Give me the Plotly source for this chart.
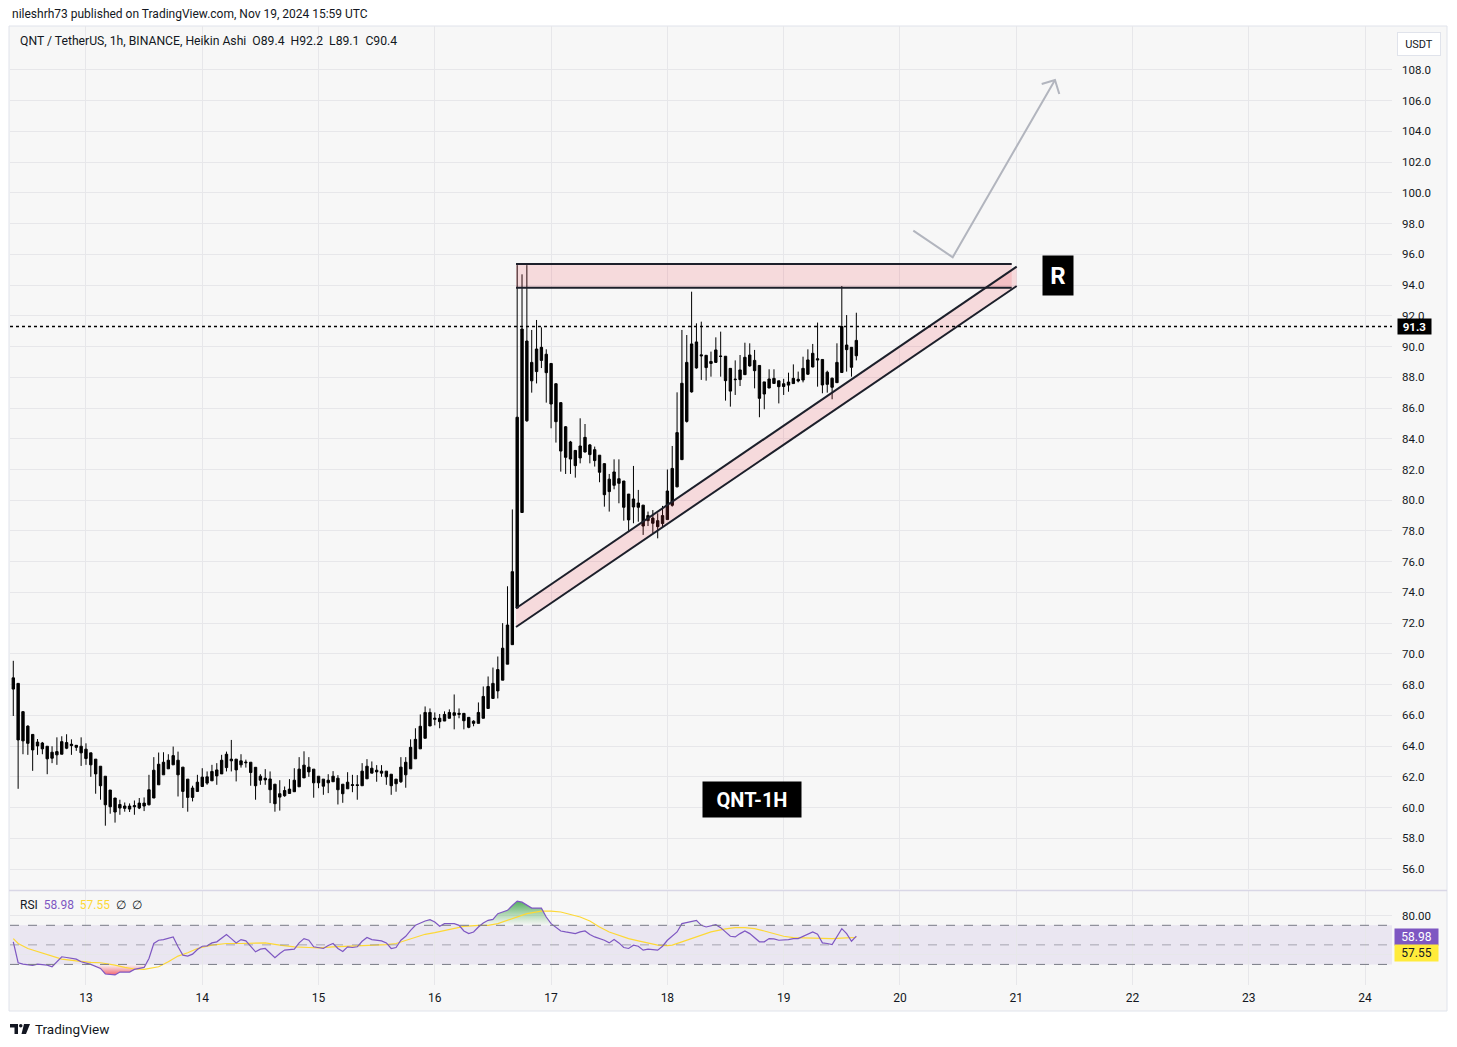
import pandas as pd
import plotly.graph_objects as go

# ---------------- data ----------------
T0 = pd.Timestamp("2024-11-12 09:00")  # first hourly candle

ha_open = [
    68.44, 68.08, 66.24, 65.30, 64.76, 64.26, 64.20, 63.99, 63.60, 63.43,
    63.47, 63.86, 64.03, 64.05, 63.99, 63.80, 63.56, 63.15, 62.69, 62.04,
    61.14, 60.62, 60.20, 60.10, 59.90, 60.05, 59.97, 60.10, 60.18, 60.62,
    61.48, 62.13, 62.52, 62.78, 63.08, 62.63, 61.85, 61.27, 61.05, 61.37,
    61.59, 61.74, 62.06, 62.19, 62.60, 63.04, 63.15, 62.78, 62.91, 62.95,
    62.62, 62.04, 61.91, 61.86, 61.52, 60.90, 60.77, 60.92, 61.03, 61.35,
    61.93, 62.32, 62.50, 62.04, 61.85, 61.61, 61.68, 61.91, 61.52, 61.22,
    61.44, 61.48, 61.42, 61.87, 62.24, 62.43, 62.37, 62.37, 62.17, 61.85,
    61.68, 62.13, 62.52, 63.17, 63.82, 64.51, 65.31, 65.74, 65.81, 65.63,
    65.81, 66.00, 66.06, 66.13, 65.87, 65.62, 65.48, 65.81, 66.45, 67.10,
    67.59, 68.29, 69.33, 70.60, 72.98, 79.20, 85.17, 87.77, 88.37, 89.10,
    89.50, 88.90, 87.58, 86.35, 84.78, 83.79, 83.24, 82.75, 83.14, 83.60,
    83.29, 82.93, 82.38, 81.37, 80.97, 81.40, 81.25, 80.40, 79.56, 79.82,
    79.68, 79.00, 78.84, 78.67, 78.48, 78.74, 79.67, 80.87, 82.64, 85.13,
    87.05, 88.61, 89.46, 89.43, 89.03, 88.97, 89.38, 89.37, 88.58, 87.84,
    87.85, 88.17, 88.74, 89.10, 88.77, 87.70, 87.30, 87.60, 87.77, 87.58,
    87.49, 87.59, 87.76, 87.82, 88.20, 88.67, 89.12, 89.16, 88.33, 87.94,
    87.65, 88.31, 89.80, 89.95, 89.40]

ha_high = [
    69.55, 68.08, 66.26, 65.35, 64.77, 64.46, 64.27, 63.99, 63.99, 64.57,
    64.64, 64.77, 64.44, 64.05, 64.57, 64.18, 63.56, 63.15, 62.69, 62.04,
    61.14, 60.62, 60.51, 60.33, 60.27, 60.46, 60.62, 60.66, 62.13, 63.28,
    63.58, 63.60, 63.47, 63.97, 63.64, 62.63, 61.85, 61.42, 62.13, 62.56,
    62.35, 62.78, 62.89, 63.43, 63.64, 64.40, 63.15, 63.47, 63.12, 62.95,
    62.63, 62.17, 62.50, 62.35, 61.52, 61.78, 61.37, 61.85, 62.56, 63.28,
    63.66, 63.28, 62.50, 62.04, 61.85, 62.17, 62.37, 62.11, 61.52, 62.30,
    62.13, 62.11, 62.89, 63.15, 63.00, 62.76, 62.76, 62.37, 62.17, 61.85,
    63.28, 63.28, 64.44, 65.16, 66.06, 66.58, 66.45, 66.19, 66.09, 66.26,
    66.39, 67.36, 66.45, 66.13, 65.87, 65.68, 66.84, 67.88, 68.53, 69.11,
    69.83, 72.00, 74.40, 79.40, 95.30, 94.70, 95.30, 91.08, 91.73, 91.25,
    89.82, 88.91, 87.61, 86.37, 84.83, 83.86, 83.27, 85.33, 84.96, 83.66,
    83.49, 82.93, 82.40, 81.71, 82.66, 82.66, 81.25, 80.40, 82.23, 80.67,
    79.69, 79.26, 79.36, 79.15, 79.63, 82.00, 83.53, 87.02, 91.08, 90.75,
    93.57, 91.51, 91.62, 89.43, 89.67, 90.60, 90.97, 89.38, 88.60, 89.10,
    89.45, 90.25, 90.21, 89.78, 88.77, 87.70, 88.52, 88.52, 87.77, 87.90,
    88.30, 88.84, 88.37, 89.34, 89.82, 90.17, 91.56, 89.16, 88.43, 87.98,
    90.21, 93.94, 92.05, 89.95, 92.20]

ha_low = [
    65.96, 61.22, 63.47, 63.43, 62.39, 63.43, 63.47, 62.17, 62.89, 62.78,
    63.47, 63.80, 63.43, 63.69, 62.71, 62.78, 62.00, 60.90, 60.51, 58.82,
    59.60, 59.02, 59.53, 59.73, 59.71, 59.53, 59.90, 59.77, 60.14, 60.62,
    61.48, 62.13, 62.52, 62.78, 60.72, 59.97, 59.73, 60.40, 61.05, 61.37,
    61.48, 61.74, 61.48, 62.19, 62.35, 62.35, 61.70, 62.60, 62.60, 61.42,
    60.51, 61.48, 61.48, 60.29, 59.73, 59.80, 60.70, 60.90, 61.03, 61.35,
    61.93, 62.00, 60.64, 61.26, 60.83, 60.94, 61.68, 60.20, 60.31, 61.22,
    61.00, 60.51, 61.42, 61.87, 62.24, 61.68, 62.00, 61.48, 60.83, 61.03,
    61.60, 61.29, 62.52, 63.17, 63.82, 64.51, 65.31, 65.35, 65.16, 65.63,
    65.81, 65.09, 65.81, 65.09, 65.16, 65.29, 65.48, 65.81, 66.45, 67.10,
    67.10, 68.29, 69.33, 70.60, 72.98, 79.20, 85.10, 87.00, 87.60, 88.60,
    86.35, 84.68, 83.75, 81.86, 81.71, 81.71, 81.47, 82.40, 83.10, 82.40,
    82.19, 81.17, 79.58, 79.26, 80.71, 79.80, 78.67, 78.00, 78.50, 78.60,
    77.74, 78.32, 77.85, 77.52, 78.20, 78.74, 79.58, 80.84, 82.62, 85.05,
    87.00, 88.56, 87.83, 87.78, 88.04, 88.95, 88.04, 86.48, 86.09, 86.85,
    87.43, 88.17, 88.69, 87.28, 85.40, 85.92, 87.30, 87.60, 86.30, 86.85,
    87.06, 87.59, 87.67, 87.67, 88.15, 88.65, 87.39, 86.96, 87.00, 86.57,
    87.65, 88.31, 88.37, 88.04, 89.10]

ha_close = [
    67.71, 64.40, 64.34, 64.18, 63.75, 64.01, 63.82, 63.17, 63.21, 63.64,
    64.29, 64.23, 64.12, 63.92, 63.56, 63.19, 62.78, 62.19, 61.42, 60.18,
    60.05, 59.71, 59.97, 59.95, 60.10, 60.12, 60.29, 60.29, 61.16, 62.43,
    62.82, 62.95, 63.08, 63.38, 62.13, 61.05, 60.66, 60.66, 61.65, 61.98,
    62.00, 62.35, 62.45, 63.08, 63.47, 63.15, 62.45, 63.04, 62.95, 62.28,
    61.42, 61.78, 61.80, 61.16, 60.25, 60.68, 61.11, 61.20, 61.78, 62.50,
    62.76, 62.63, 61.61, 61.61, 61.39, 61.78, 62.04, 61.16, 60.90, 61.65,
    61.48, 61.44, 62.37, 62.69, 62.56, 62.32, 62.24, 62.00, 61.42, 61.55,
    62.63, 62.95, 63.92, 64.44, 65.29, 66.19, 66.19, 65.81, 65.59, 66.06,
    66.19, 66.17, 66.13, 65.65, 65.22, 65.48, 66.19, 67.23, 67.88, 68.08,
    68.98, 70.37, 71.88, 75.35, 85.40, 91.14, 90.36, 88.97, 89.84, 89.95,
    88.30, 86.26, 85.11, 83.20, 82.79, 82.68, 82.25, 83.53, 84.09, 82.97,
    82.58, 81.82, 80.36, 80.56, 81.84, 81.10, 79.54, 78.72, 80.08, 79.54,
    78.32, 78.67, 78.50, 78.28, 79.00, 80.60, 82.07, 84.40, 87.61, 88.97,
    90.17, 90.30, 89.40, 88.63, 88.90, 89.78, 89.36, 87.78, 87.10, 87.87,
    88.48, 89.30, 89.45, 88.43, 86.63, 86.91, 87.89, 87.93, 87.39, 87.40,
    87.69, 87.93, 87.87, 88.58, 89.13, 89.56, 89.20, 87.50, 87.54, 87.35,
    88.97, 91.30, 90.10, 88.65, 90.40]

last_price = 91.3
price_ticks = list(range(56, 110, 2))

# RSI (candle index -> value)
rsi_idx = [0, 1, 2, 4, 5, 7, 8, 9, 10, 11, 13, 14, 16, 18, 19, 21, 22, 24, 25, 27,
           28, 29, 30, 31, 33, 34, 35, 36, 37, 38, 39, 40, 41, 42, 44, 45, 46, 47, 48, 50,
           51, 52, 53, 54, 55, 56, 58, 59, 60, 61, 62, 63, 64, 65, 66, 67, 68, 69, 70, 71,
           72, 73, 74, 76, 77, 78, 79, 80, 81, 82, 83, 85, 86, 87, 88, 89, 91, 92, 93, 94,
           95, 96, 97, 98, 99, 100, 102, 103, 104, 105, 107, 109, 110, 111, 113, 114, 116, 117, 118, 119,
           120, 122, 123, 124, 125, 126, 127, 128, 129, 130, 131, 133, 134, 135, 137, 138, 140, 141, 142, 143,
           145, 146, 148, 149, 150, 151, 152, 154, 155, 156, 157, 158, 160, 161, 162, 164, 165, 166, 167, 168,
           169, 171, 172, 173, 174]
rsi_val = [53.1, 31.7, 30.3, 29.0, 30.3, 29.3, 27.6, 32.7, 37.8, 37.1, 35.4, 32.7, 30.0, 25.9, 20.2, 19.2, 22.2, 22.2, 24.9, 26.9,
           36.1, 51.4, 54.7, 55.4, 58.1, 48.0, 39.5, 38.5, 40.5, 45.3, 48.6, 49.0, 52.0, 53.1, 60.5, 56.4, 52.0, 55.4, 54.1, 42.9,
           45.6, 46.3, 41.9, 36.8, 41.2, 44.6, 45.6, 52.0, 56.4, 54.7, 48.0, 47.3, 46.3, 49.3, 51.4, 46.3, 43.2, 48.0, 47.3, 48.0,
           53.7, 57.5, 55.4, 54.1, 52.0, 46.3, 47.3, 54.7, 58.8, 64.9, 70.0, 74.4, 75.8, 73.4, 69.0, 71.7, 71.7, 70.0, 64.2, 61.5,
           63.2, 68.3, 72.4, 75.1, 76.1, 81.9, 85.3, 90.3, 94.7, 93.7, 87.6, 87.6, 78.5, 71.7, 64.2, 63.2, 61.5, 63.2, 64.2, 60.5,
           58.1, 54.7, 52.0, 55.4, 52.0, 47.3, 46.3, 49.7, 48.6, 44.6, 45.6, 44.6, 48.6, 54.7, 63.2, 71.7, 74.4, 75.1, 70.0, 68.3,
           70.7, 67.6, 58.8, 58.1, 61.5, 64.2, 61.5, 53.1, 53.1, 56.4, 56.1, 54.7, 55.4, 56.4, 56.4, 61.5, 63.2, 60.8, 52.0, 51.4,
           50.3, 66.6, 61.5, 53.7, 58.98]

rsi_ma_idx = [0, 1, 3, 6, 8, 10, 13, 16, 18, 21, 23, 25, 27, 30, 32, 34, 36, 38, 41, 44,
              47, 50, 52, 55, 58, 61, 63, 66, 69, 72, 74, 77, 79, 82, 85, 87, 90, 93, 96, 98,
              100, 103, 106, 109, 111, 113, 115, 117, 119, 121, 123, 125, 127, 129, 131, 133, 135, 136, 138, 140,
              142, 144, 147, 149, 151, 153, 155, 157, 159, 161, 164, 166, 169, 172, 174]
rsi_ma_val = [56.4, 51.4, 46.3, 41.9, 38.5, 35.4, 33.7, 32.0, 31.7, 29.3, 26.9, 25.3, 24.9, 27.6, 32.7, 38.5, 41.9, 46.3, 49.7, 51.4,
              51.4, 51.4, 52.0, 49.7, 48.0, 47.3, 46.9, 48.0, 48.6, 49.7, 50.3, 50.3, 51.4, 56.4, 60.8, 62.5, 65.6, 69.0, 70.0, 70.0,
              71.7, 76.8, 81.9, 84.6, 84.6, 83.6, 81.2, 78.5, 74.4, 68.3, 63.2, 59.8, 56.4, 54.1, 52.0, 49.7, 49.3, 49.7, 53.1, 56.4,
              59.8, 63.2, 66.3, 67.6, 67.6, 66.6, 64.2, 61.5, 58.8, 57.5, 57.1, 56.8, 56.4, 57.1, 57.55]

rsi_levels = [70, 50, 30]

# drawings (hours after T0, price)
zone_hours = [103.76, 206.07]
zone_prices = [95.37, 93.83]
chan_hours = [103.76, 207.1]
chan_upper = [72.97, 95.20]
chan_lower = [71.75, 93.94]
arrow_hours = [185.76, 193.89, 215.0]
arrow_prices = [97.54, 95.81, 107.35]
head_hours = [212.26, 215.0, 215.89]
head_prices = [107.09, 107.35, 106.44]
r_label = (215.6, 94.6)
qnt_label = (152.5, 60.5)

# ---------------- layout helpers ----------------
W, H = 1457, 1047
ML, MR, MT, MB = 10, 65, 26, 62
PW, PH = W - ML - MR, H - MT - MB


def px(x):
    return (x - ML) / PW


def py(y):
    return (H - MB - y) / PH


def t(hours):
    return T0 + pd.Timedelta(hours=hours)


FONT = "Roboto, 'Liberation Sans', sans-serif"
TXT = "#131722"
GRID = "#e7e7ea"
BG = "#f7f7f7"
PINK = "rgba(242,54,69,0.15)"
LINE = "#1c1f2a"

times = [t(i) for i in range(len(ha_open))]
rsi_times = [t(i) for i in rsi_idx]
ma_times = [t(i) for i in rsi_ma_idx]

fig = go.Figure()

# pink zone fills (under candles)
fig.add_trace(go.Scatter(
    x=[t(zone_hours[0]), t(zone_hours[1]), t(zone_hours[1]), t(zone_hours[0])],
    y=[zone_prices[0], zone_prices[0], zone_prices[1], zone_prices[1]],
    fill="toself", fillcolor=PINK, line=dict(width=0), mode="lines", hoverinfo="skip"))
fig.add_trace(go.Scatter(
    x=[t(chan_hours[0]), t(chan_hours[1]), t(chan_hours[1]), t(chan_hours[0])],
    y=[chan_upper[0], chan_upper[1], chan_lower[1], chan_lower[0]],
    fill="toself", fillcolor=PINK, line=dict(width=0), mode="lines", hoverinfo="skip"))

# candles
fig.add_trace(go.Candlestick(
    x=times, open=ha_open, high=ha_high, low=ha_low, close=ha_close,
    increasing=dict(line=dict(color="#000000", width=1), fillcolor="#000000"),
    decreasing=dict(line=dict(color="#000000", width=1), fillcolor="#000000"),
    whiskerwidth=0, hoverinfo="skip"))

# zone / channel border lines
for yv in zone_prices:
    fig.add_trace(go.Scatter(x=[t(zone_hours[0]), t(zone_hours[1])], y=[yv, yv], mode="lines",
                             line=dict(color=LINE, width=2), hoverinfo="skip"))
for ys in (chan_upper, chan_lower):
    fig.add_trace(go.Scatter(x=[t(chan_hours[0]), t(chan_hours[1])], y=ys, mode="lines",
                             line=dict(color=LINE, width=2), hoverinfo="skip"))

# projection arrow
fig.add_trace(go.Scatter(x=[t(hh) for hh in arrow_hours], y=arrow_prices, mode="lines",
                         line=dict(color="#b2b5be", width=2), hoverinfo="skip"))
fig.add_trace(go.Scatter(x=[t(hh) for hh in head_hours], y=head_prices, mode="lines",
                         line=dict(color="#b2b5be", width=2), hoverinfo="skip"))

# ---------------- RSI pane ----------------
fig.add_trace(go.Scatter(x=rsi_times, y=[70] * len(rsi_val), mode="lines", line=dict(width=0),
                         xaxis="x2", yaxis="y2", hoverinfo="skip"))
fig.add_trace(go.Scatter(x=rsi_times, y=[max(v, 70) for v in rsi_val], mode="lines", line=dict(width=0),
                         fill="tonexty",
                         fillgradient=dict(type="vertical",
                                           colorscale=[[0, "rgba(76,175,80,0)"], [1, "rgba(56,160,70,0.85)"]]),
                         xaxis="x2", yaxis="y2", hoverinfo="skip"))
fig.add_trace(go.Scatter(x=rsi_times, y=[30] * len(rsi_val), mode="lines", line=dict(width=0),
                         xaxis="x2", yaxis="y2", hoverinfo="skip"))
fig.add_trace(go.Scatter(x=rsi_times, y=[min(v, 30) for v in rsi_val], mode="lines", line=dict(width=0),
                         fill="tonexty",
                         fillgradient=dict(type="vertical",
                                           colorscale=[[0, "rgba(242,54,69,0.75)"], [1, "rgba(242,54,69,0)"]]),
                         xaxis="x2", yaxis="y2", hoverinfo="skip"))
fig.add_trace(go.Scatter(x=ma_times, y=rsi_ma_val, mode="lines", line=dict(color="#fdd835", width=1.2),
                         xaxis="x2", yaxis="y2", hoverinfo="skip"))
fig.add_trace(go.Scatter(x=rsi_times, y=rsi_val, mode="lines", line=dict(color="#7e57c2", width=1.2),
                         xaxis="x2", yaxis="y2", hoverinfo="skip"))

shapes = [
    # chart panel background
    dict(type="rect", xref="paper", yref="paper", x0=px(9), x1=px(1447), y0=py(1011), y1=py(26),
         fillcolor=BG, line=dict(color="#e0e3eb", width=1), layer="below"),
    # pane separator
    dict(type="line", xref="paper", yref="paper", x0=px(9), x1=px(1447), y0=py(890.5), y1=py(890.5),
         line=dict(color="#d9d7e6", width=1.5)),
    # RSI band
    dict(type="rect", xref="paper", yref="y2", x0=0, x1=1, y0=rsi_levels[2], y1=rsi_levels[0],
         fillcolor="rgba(126,87,194,0.10)", line=dict(width=0), layer="below"),
    # last price dotted line
    dict(type="line", xref="paper", yref="y", x0=0, x1=1, y0=last_price, y1=last_price,
         line=dict(color="#000000", width=1.5, dash="dot")),
]
for lv in rsi_levels:
    shapes.append(dict(type="line", xref="paper", yref="y2", x0=0, x1=1, y0=lv, y1=lv,
                       line=dict(color="#787b86" if lv != 50 else "rgba(120,123,134,0.6)", width=1, dash="dash")))

# TradingView logo (bottom-left)
shapes += [
    dict(type="rect", xref="paper", yref="paper", x0=px(10), x1=px(18), y0=py(1027.5), y1=py(1024),
         fillcolor=TXT, line=dict(width=0)),
    dict(type="rect", xref="paper", yref="paper", x0=px(14.5), x1=px(18), y0=py(1034), y1=py(1024),
         fillcolor=TXT, line=dict(width=0)),
    dict(type="circle", xref="paper", yref="paper", x0=px(19), x1=px(22.5), y0=py(1027.5), y1=py(1024),
         fillcolor=TXT, line=dict(width=0)),
    dict(type="path", xref="paper", yref="paper",
         path=f"M{px(24)},{py(1024)} L{px(30)},{py(1024)} L{px(26)},{py(1034)} L{px(21.5)},{py(1034)} Z",
         fillcolor=TXT, line=dict(width=0)),
]

o_last, h_last, l_last, c_last = ha_open[-1], ha_high[-1], ha_low[-1], ha_close[-1]
sp = "&nbsp;"
annotations = [
    dict(xref="paper", yref="paper", x=px(10), y=py(14), xanchor="left", yanchor="middle", showarrow=False,
         text="nileshrh73 published on TradingView.com, Nov 19, 2024 15:59 UTC",
         font=dict(size=12, color=TXT)),
    dict(xref="paper", yref="paper", x=px(18), y=py(41), xanchor="left", yanchor="middle", showarrow=False,
         text=f"QNT / TetherUS, 1h, BINANCE, Heikin Ashi{sp}{sp}O{o_last:.1f}{sp}{sp}H{h_last:.1f}{sp}{sp}"
              f"L{l_last:.1f}{sp}{sp}C{c_last:.1f}",
         font=dict(size=12.2, color=TXT)),
    dict(xref="paper", yref="paper", x=px(18), y=py(905), xanchor="left", yanchor="middle", showarrow=False,
         text=f"RSI{sp}{sp}<span style='color:#7e57c2'>{rsi_val[-1]:.2f}</span>{sp}{sp}"
              f"<span style='color:#fdd835'>{rsi_ma_val[-1]:.2f}</span>{sp}{sp}∅{sp}{sp}∅",
         font=dict(size=12, color=TXT)),
    dict(xref="paper", yref="paper", x=px(1418.5), y=py(44), xanchor="center", yanchor="middle", showarrow=False,
         text="USDT", font=dict(size=11, color=TXT), bgcolor="#ffffff", bordercolor="#e0e3eb",
         borderwidth=1, borderpad=3, width=36, height=16),
    dict(xref="paper", yref="y", x=px(1397), y=last_price, xanchor="left", yanchor="middle", showarrow=False,
         text=f"<b>{last_price:.1f}</b>", font=dict(size=11.5, color="#ffffff"), bgcolor="#000000",
         borderpad=1, width=31, height=13),
    dict(xref="paper", yref="paper", x=px(1394), y=py(936.5), xanchor="left", yanchor="middle", showarrow=False,
         text=f"{rsi_val[-1]:.2f}", font=dict(size=12, color="#ffffff"), bgcolor="#7e57c2",
         borderpad=1, width=41, height=14),
    dict(xref="paper", yref="paper", x=px(1394), y=py(953), xanchor="left", yanchor="middle", showarrow=False,
         text=f"{rsi_ma_val[-1]:.2f}", font=dict(size=12, color="#131722"), bgcolor="#ffeb3b",
         borderpad=1, width=41, height=14),
    dict(xref="x", yref="y", x=t(qnt_label[0]), y=qnt_label[1], xanchor="center", yanchor="middle",
         showarrow=False, text="<b>QNT-1H</b>", font=dict(size=20, color="#ffffff"), bgcolor="#000000",
         borderpad=3, width=92, height=29),
    dict(xref="x", yref="y", x=t(r_label[0]), y=r_label[1], xanchor="center", yanchor="middle",
         showarrow=False, text="<b>R</b>", font=dict(size=24, color="#ffffff"), bgcolor="#000000",
         borderpad=3, width=24, height=33),
    dict(xref="paper", yref="paper", x=px(33), y=py(1029), xanchor="left", yanchor="middle", showarrow=False,
         text="TradingView", font=dict(size=13.5, color=TXT)),
]

fig.update_layout(
    width=W, height=H,
    margin=dict(l=ML, r=MR, t=MT, b=MB, pad=0),
    paper_bgcolor="#ffffff", plot_bgcolor="rgba(0,0,0,0)",
    showlegend=False,
    font=dict(family=FONT, color=TXT, size=12),
    shapes=shapes, annotations=annotations,
    xaxis=dict(domain=[0, 1], anchor="y", range=[t(-0.68), t(284.56)], type="date",
               showticklabels=False, showgrid=True, gridcolor=GRID, gridwidth=1,
               tick0="2024-11-13", dtick=86400000, zeroline=False, showline=False, ticks="",
               rangeslider=dict(visible=False), fixedrange=True),
    xaxis2=dict(domain=[0, 1], anchor="y2", matches="x", type="date", range=[t(-0.68), t(284.56)],
                showgrid=True, gridcolor=GRID, gridwidth=1, tick0="2024-11-13", dtick=86400000,
                tickformat="%-d", tickfont=dict(size=12, color=TXT), zeroline=False, showline=False,
                ticks="", ticklabelstandoff=4, rangeslider=dict(visible=False)),
    yaxis=dict(domain=[py(889), 1], anchor="x", side="right", range=[54.70, 110.86],
               tickmode="array", tickvals=price_ticks,
               tickformat=".1f", showgrid=True, gridcolor=GRID, gridwidth=1, zeroline=False, showline=False,
               ticks="", tickfont=dict(size=11.5, color=TXT), ticklabelstandoff=9),
    yaxis2=dict(domain=[0, py(891)], anchor="x2", side="right", range=[8.93, 105.1], tickvals=[40, 80],
                tickformat=".2f", showgrid=True, gridcolor=GRID, gridwidth=1, zeroline=False, showline=False,
                ticks="", tickfont=dict(size=11.5, color=TXT), ticklabelstandoff=9),
)

fig.write_html("out.html", config={"displayModeBar": False})
